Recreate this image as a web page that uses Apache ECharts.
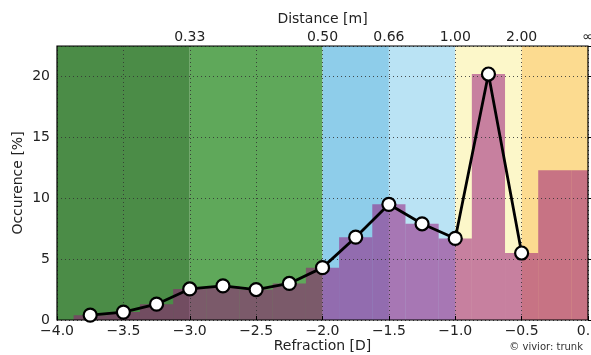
<!DOCTYPE html>
<html>
<head>
<meta charset="utf-8">
<script src="https://cdn.jsdelivr.net/npm/echarts@6/dist/echarts.min.js"></script>
<style>
  html, body { margin: 0; padding: 0; background: #fff; }
  #chart { width: 591px; height: 355px; }
</style>
</head>
<body>
<div id="chart"></div>
<script>
// refraction bins [D] and occurrence [%]
var refraction = [-3.75, -3.5, -3.25, -3.0, -2.75, -2.5, -2.25, -2.0, -1.75, -1.5, -1.25, -1.0, -0.75, -0.5];
var occurrence = [0.4, 0.65, 1.3, 2.55, 2.8, 2.5, 3.0, 4.3, 6.8, 9.5, 7.9, 6.7, 20.2, 5.5];
// histogram steps (the tail bins have no marker)
var histCenters = refraction.concat([-0.25, 0.0]);
var histValues = occurrence.concat([12.3, 12.3]);
var binWidth = 0.25;

// distance zones in the background
var zoneEdges = [-4.0, -3.0, -2.0, -1.5, -1.0, -0.5, 0.0];
var zoneColors = ['#4b8c47', '#5fa85a', '#8ecdea', '#bae3f4', '#fcf7c9', '#fcdb90'];

// top axis labels (distance in meters)
var distanceTicks = { '-3': '0.33', '-2': '0.50', '-1.5': '0.66', '-1': '1.00', '-0.5': '2.00', '0': '\u221e' };

var chart = echarts.init(document.getElementById('chart'));

var zoneData = [];
for (var i = 0; i < zoneColors.length; i++) {
  zoneData.push([zoneEdges[i], zoneEdges[i + 1], i]);
}

var font = 'DejaVu Sans';

function clipToGrid(params, p0, p1) {
  var cs = params.coordSys;
  return echarts.graphic.clipRectByRect(
    { x: p0[0], y: p0[1], width: p1[0] - p0[0], height: p1[1] - p0[1] },
    { x: cs.x, y: cs.y, width: cs.width, height: cs.height });
}

var option = {
  animation: false,
  textStyle: { fontFamily: font },
  grid: { left: 57, right: 3, top: 46, bottom: 35, outerBoundsMode: 'none', containLabel: false,
          show: true, borderColor: '#000', borderWidth: 1.2, z: 4 },
  xAxis: [
    {
      type: 'value', min: -4, max: 0, interval: 0.5, z: 3,
      name: 'Refraction [D]', nameLocation: 'middle', nameGap: 19, nameMoveOverlap: false,
      nameTextStyle: { fontSize: 14, color: '#222' },
      axisLine: { show: false },
      axisTick: { show: true, inside: true, length: 4, lineStyle: { color: '#000' } },
      axisLabel: {
        fontSize: 14, color: '#222', margin: 4,
        formatter: function (v) { return v.toFixed(1).replace('-', '\u2212'); }
      },
      splitLine: { show: true, lineStyle: { color: '#333', type: [1, 3], width: 1, opacity: 0.85 } }
    },
    {
      type: 'value', min: -4, max: 0, interval: 0.5, position: 'top',
      name: 'Distance [m]', nameLocation: 'middle', nameGap: 20, nameMoveOverlap: false,
      nameTextStyle: { fontSize: 14, color: '#222' },
      axisLine: { show: false },
      axisTick: { show: false },
      axisLabel: {
        fontSize: 14, color: '#222', margin: 2,
        formatter: function (v) { var k = String(v); return distanceTicks[k] || ''; }
      },
      splitLine: { show: false }
    }
  ],
  yAxis: {
    type: 'value', min: 0, max: 22.5, interval: 5, z: 3,
    name: 'Occurence [%]', nameLocation: 'middle', nameGap: 32, nameMoveOverlap: false,
    nameTextStyle: { fontSize: 14, color: '#222' },
    axisLine: { show: false },
    axisTick: { show: true, inside: true, length: 4, lineStyle: { color: '#000' } },
    axisLabel: {
      fontSize: 14, color: '#222', margin: 7,
      formatter: function (v) { return v % 5 === 0 ? String(v) : ''; }
    },
    splitLine: { show: true, lineStyle: { color: '#333', type: [1, 3], width: 1, opacity: 0.85 } }
  },
  series: [
    {
      type: 'custom', name: 'zones', z: 1, silent: true,
      data: zoneData,
      renderItem: function (params, api) {
        var r = clipToGrid(params, api.coord([api.value(0), 22.5]), api.coord([api.value(1), 0]));
        return r && { type: 'rect', shape: r, style: { fill: zoneColors[api.value(2)] } };
      }
    },
    {
      type: 'custom', name: 'histogram', z: 2, silent: true,
      data: histCenters.map(function (c, i) { return [c, histValues[i]]; }),
      renderItem: function (params, api) {
        var c = api.value(0);
        var r = clipToGrid(params, api.coord([c - binWidth / 2, api.value(1)]), api.coord([c + binWidth / 2, 0]));
        return r && { type: 'rect', shape: r, style: { fill: 'rgba(150,20,120,0.52)' } };
      }
    },
    {
      type: 'line', name: 'occurrence', z: 5,
      data: refraction.map(function (x, i) { return [x, occurrence[i]]; }),
      symbol: 'circle', symbolSize: 13,
      lineStyle: { color: '#000', width: 2.8 },
      itemStyle: { color: '#fff', borderColor: '#000', borderWidth: 2.2 }
    }
  ],
  graphic: [
    { type: 'text', right: 8, top: 342, style: { text: '\u00a9 vivior: trunk', fontSize: 10, fill: '#333', fontFamily: font } }
  ]
};

chart.setOption(option);
</script>
</body>
</html>
